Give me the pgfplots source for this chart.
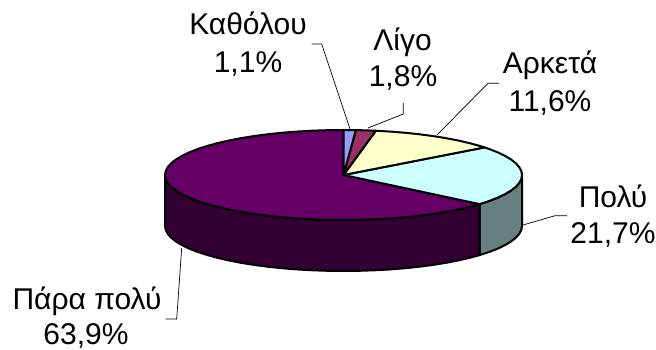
\documentclass[border=0pt]{standalone}
\usepackage{pgfplots}
\pgfplotsset{compat=1.18}
\usepackage{fontspec}
\setmainfont{Liberation Sans}
\definecolor{cA}{HTML}{9999FF}
\definecolor{cB}{HTML}{993366}
\definecolor{cC}{HTML}{FFFFCC}
\definecolor{cD}{HTML}{CCFFFF}
\definecolor{cE}{HTML}{660066}
\definecolor{sD}{HTML}{668080}
\definecolor{sE}{HTML}{330033}
\pgfplotsset{base/.style={scale only axis,width=656pt,height=350pt,hide axis,clip=false},
  rim/.style={draw=black,line width=2pt,line join=round}}
\tikzset{lab/.style={anchor=base,inner sep=0pt,font=\fontsize{30}{36}\selectfont}}
\begin{document}
\begin{tikzpicture}
\useasboundingbox (0,0) rectangle (656pt,350pt);
% pie: x = sin(angle), y = cos(angle), depth 1.133
\begin{axis}[base,xmin=-1.9244,xmax=1.7507,ymin=-3.8889,ymax=3.8889]
% side Poly
\addplot[fill=sD,rim] coordinates {
(1,0)(.9962,-.0872)(.9848,-.1736)(.9659,-.2588)(.9397,-.3420)(.9063,-.4226)(.8660,-.5)(.8192,-.5736)(.7625,-.6470)
(.7625,-1.780)(.8192,-1.7066)(.8660,-1.633)(.9063,-1.5556)(.9397,-1.475)(.9659,-1.3918)(.9848,-1.3066)(.9962,-1.2202)(1,-1.133)} -- cycle;
% side Para poly
\addplot[fill=sE,rim] coordinates {
(.7625,-.6470)(.7071,-.7071)(.6428,-.7660)(.5736,-.8192)(.5,-.8660)(.4226,-.9063)(.3420,-.9397)(.2588,-.9659)(.1736,-.9848)(.0872,-.9962)(0,-1)(-.0872,-.9962)(-.1736,-.9848)(-.2588,-.9659)(-.3420,-.9397)(-.4226,-.9063)(-.5,-.8660)(-.5736,-.8192)(-.6428,-.7660)(-.7071,-.7071)(-.7660,-.6428)(-.8192,-.5736)(-.8660,-.5)(-.9063,-.4226)(-.9397,-.3420)(-.9659,-.2588)(-.9848,-.1736)(-.9962,-.0872)(-1,0)
(-1,-1.133)(-.9962,-1.2202)(-.9848,-1.3066)(-.9659,-1.3918)(-.9397,-1.475)(-.9063,-1.5556)(-.8660,-1.633)(-.8192,-1.7066)(-.7660,-1.7758)(-.7071,-1.8401)(-.6428,-1.899)(-.5736,-1.9522)(-.5,-1.999)(-.4226,-2.0393)(-.3420,-2.0727)(-.2588,-2.0989)(-.1736,-2.1178)(-.0872,-2.1292)(0,-2.133)(.0872,-2.1292)(.1736,-2.1178)(.2588,-2.0989)(.3420,-2.0727)(.4226,-2.0393)(.5,-1.999)(.5736,-1.9522)(.6428,-1.899)(.7071,-1.8401)(.7625,-1.780)} -- cycle;
% top: Para poly 63,9%
\addplot[fill=cE,rim] coordinates {
(0,0)(.7625,-.6470)(.7071,-.7071)(.6428,-.7660)(.5736,-.8192)(.5,-.8660)(.4226,-.9063)(.3420,-.9397)(.2588,-.9659)(.1736,-.9848)(.0872,-.9962)(0,-1)(-.0872,-.9962)(-.1736,-.9848)(-.2588,-.9659)(-.3420,-.9397)(-.4226,-.9063)(-.5,-.8660)(-.5736,-.8192)(-.6428,-.7660)(-.7071,-.7071)(-.7660,-.6428)(-.8192,-.5736)(-.8660,-.5)(-.9063,-.4226)(-.9397,-.3420)(-.9659,-.2588)(-.9848,-.1736)(-.9962,-.0872)(-1,0)(-.9962,.0872)(-.9848,.1736)(-.9659,.2588)(-.9397,.3420)(-.9063,.4226)(-.8660,.5)(-.8192,.5736)(-.7660,.6428)(-.7071,.7071)(-.6428,.7660)(-.5736,.8192)(-.5,.8660)(-.4226,.9063)(-.3420,.9397)(-.2588,.9659)(-.1736,.9848)(-.0872,.9962)(0,1)} -- cycle;
% top: Poly 21,7%
\addplot[fill=cD,rim] coordinates {
(0,0)(.7902,.6129)(.8192,.5736)(.8660,.5)(.9063,.4226)(.9397,.3420)(.9659,.2588)(.9848,.1736)(.9962,.0872)(1,0)(.9962,-.0872)(.9848,-.1736)(.9659,-.2588)(.9397,-.3420)(.9063,-.4226)(.8660,-.5)(.8192,-.5736)(.7625,-.6470)} -- cycle;
% top: Arketa 11,6%
\addplot[fill=cC,rim] coordinates {
(0,0)(.1812,.9834)(.2588,.9659)(.3420,.9397)(.4226,.9063)(.5,.8660)(.5736,.8192)(.6428,.7660)(.7071,.7071)(.7660,.6428)(.7902,.6129)} -- cycle;
% top: Ligo 1,8%
\addplot[fill=cB,rim] coordinates {
(0,0)(.0691,.9976)(.1219,.9925)(.1812,.9834)} -- cycle;
% top: Katholou 1,1%
\addplot[fill=cA,rim] coordinates {
(0,0)(0,1)(.0349,.9994)(.0691,.9976)} -- cycle;
\end{axis}
% labels and leaders in pixel coordinates
\begin{axis}[base,xmin=0,xmax=656,ymin=0,ymax=350,y dir=reverse]
\addplot[black,line width=.7pt] coordinates {(311.7,44)(321.7,44)(350,129)};
\addplot[black,line width=.7pt] coordinates {(403.3,103)(403.3,114)(368,128)};
\addplot[black,line width=.7pt] coordinates {(499,83.3)(488,83.3)(437,135)};
\addplot[black,line width=.7pt] coordinates {(567,215.7)(555,215.7)(523,225)};
\addplot[black,line width=.7pt] coordinates {(165.7,319)(176.7,319)(181.7,248)};
\node[lab] at (axis cs:248,35) {Καθόλου};
\node[lab] at (axis cs:248,72.7) {1,1\%};
\node[lab] at (axis cs:402.5,50.7) {Λίγο};
\node[lab] at (axis cs:403,87) {1,8\%};
\node[lab] at (axis cs:550,74) {Αρκετά};
\node[lab] at (axis cs:550,111.7) {11,6\%};
\node[lab] at (axis cs:613,207) {Πολύ};
\node[lab] at (axis cs:613,243) {21,7\%};
\node[lab] at (axis cs:87,309) {Πάρα πολύ};
\node[lab] at (axis cs:86,344) {63,9\%};
\end{axis}
\end{tikzpicture}
\end{document}
